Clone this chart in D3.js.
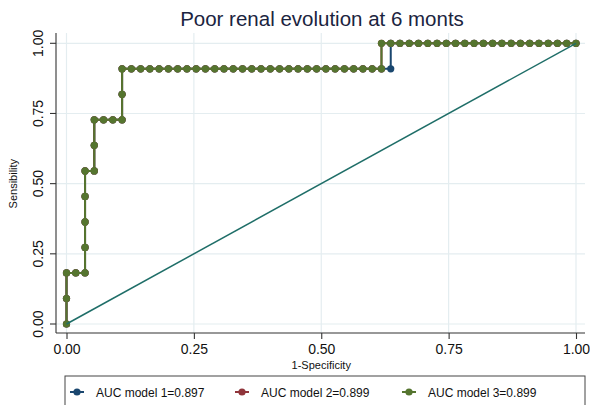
<!DOCTYPE html>
<html>
<head>
<meta charset="utf-8">
<script src="https://cdn.jsdelivr.net/npm/d3@7"></script>
<style>
  html, body { margin: 0; padding: 0; background: #ffffff; }
  svg { display: block; font-family: "Liberation Sans", Arial, sans-serif; }
</style>
</head>
<body>
<svg id="chart" width="590" height="405"></svg>
<script>
// ---- Data ----
const titleText = "Poor renal evolution at 6 monts";
const xAxisTitle = "1-Specificity";
const yAxisTitle = "Sensibility";
const tickValues = [0, 0.25, 0.5, 0.75, 1];
const tickLabels = ["0.00", "0.25", "0.50", "0.75", "1.00"];
const modelNames = ["AUC model 1=0.897", "AUC model 2=0.899", "AUC model 3=0.899"];

const fpr1 = [0,0,0,0.0182,0.0364,0.0364,0.0364,0.0364,0.0364,0.0545,0.0545,0.0545,0.0727,0.0909,0.1091,0.1091,0.1091,
  0.1273,0.1455,0.1636,0.1818,0.2000,0.2182,0.2364,0.2545,0.2727,0.2909,0.3091,0.3273,0.3455,0.3636,0.3818,0.4000,0.4182,0.4364,0.4545,0.4727,0.4909,0.5091,0.5273,0.5455,0.5636,0.5818,0.6000,0.6182,
  0.6364,0.6364,
  0.6545,0.6727,0.6909,0.7091,0.7273,0.7455,0.7636,0.7818,0.8000,0.8182,0.8364,0.8545,0.8727,0.8909,0.9091,0.9273,0.9455,0.9636,0.9818,1.0000];
const tpr1 = [0,0.0909,0.1818,0.1818,0.1818,0.2727,0.3636,0.4545,0.5455,0.5455,0.6364,0.7273,0.7273,0.7273,0.7273,0.8182,0.9091,
  0.9091,0.9091,0.9091,0.9091,0.9091,0.9091,0.9091,0.9091,0.9091,0.9091,0.9091,0.9091,0.9091,0.9091,0.9091,0.9091,0.9091,0.9091,0.9091,0.9091,0.9091,0.9091,0.9091,0.9091,0.9091,0.9091,0.9091,0.9091,
  0.9091,1,
  1,1,1,1,1,1,1,1,1,1,1,1,1,1,1,1,1,1,1,1];

const fpr2 = [0,0,0,0.0182,0.0364,0.0364,0.0364,0.0364,0.0364,0.0545,0.0545,0.0545,0.0727,0.0909,0.1091,0.1091,0.1091,
  0.1273,0.1455,0.1636,0.1818,0.2000,0.2182,0.2364,0.2545,0.2727,0.2909,0.3091,0.3273,0.3455,0.3636,0.3818,0.4000,0.4182,0.4364,0.4545,0.4727,0.4909,0.5091,0.5273,0.5455,0.5636,0.5818,0.6000,0.6182,
  0.6182,
  0.6364,0.6545,0.6727,0.6909,0.7091,0.7273,0.7455,0.7636,0.7818,0.8000,0.8182,0.8364,0.8545,0.8727,0.8909,0.9091,0.9273,0.9455,0.9636,0.9818,1.0000];
const tpr2 = [0,0.0909,0.1818,0.1818,0.1818,0.2727,0.3636,0.4545,0.5455,0.5455,0.6364,0.7273,0.7273,0.7273,0.7273,0.8182,0.9091,
  0.9091,0.9091,0.9091,0.9091,0.9091,0.9091,0.9091,0.9091,0.9091,0.9091,0.9091,0.9091,0.9091,0.9091,0.9091,0.9091,0.9091,0.9091,0.9091,0.9091,0.9091,0.9091,0.9091,0.9091,0.9091,0.9091,0.9091,0.9091,
  1,
  1,1,1,1,1,1,1,1,1,1,1,1,1,1,1,1,1,1,1,1,1];

const fpr3 = [0,0,0,0.0182,0.0364,0.0364,0.0364,0.0364,0.0364,0.0545,0.0545,0.0545,0.0727,0.0909,0.1091,0.1091,0.1091,
  0.1273,0.1455,0.1636,0.1818,0.2000,0.2182,0.2364,0.2545,0.2727,0.2909,0.3091,0.3273,0.3455,0.3636,0.3818,0.4000,0.4182,0.4364,0.4545,0.4727,0.4909,0.5091,0.5273,0.5455,0.5636,0.5818,0.6000,0.6182,
  0.6182,
  0.6364,0.6545,0.6727,0.6909,0.7091,0.7273,0.7455,0.7636,0.7818,0.8000,0.8182,0.8364,0.8545,0.8727,0.8909,0.9091,0.9273,0.9455,0.9636,0.9818,1.0000];
const tpr3 = [0,0.0909,0.1818,0.1818,0.1818,0.2727,0.3636,0.4545,0.5455,0.5455,0.6364,0.7273,0.7273,0.7273,0.7273,0.8182,0.9091,
  0.9091,0.9091,0.9091,0.9091,0.9091,0.9091,0.9091,0.9091,0.9091,0.9091,0.9091,0.9091,0.9091,0.9091,0.9091,0.9091,0.9091,0.9091,0.9091,0.9091,0.9091,0.9091,0.9091,0.9091,0.9091,0.9091,0.9091,0.9091,
  1,
  1,1,1,1,1,1,1,1,1,1,1,1,1,1,1,1,1,1,1,1,1];

const refX = [0, 1];
const refY = [0, 1];

const seriesColors = ["#1a476f", "#90353b", "#55752f"];
const refColor = "#1f6e68";

// ---- Layout ----
const svg = d3.select("#chart");
const axisLeftX = 56, axisBottomY = 333, plotTop = 33, plotRight = 585;
const x = d3.scaleLinear().domain([0, 1]).range([66.5, 576]);
const y = d3.scaleLinear().domain([0, 1]).range([324, 43.3]);

// gridlines
const grid = svg.append("g");
grid.selectAll("line.gx").data(tickValues).join("line")
  .attr("x1", d => x(d)).attr("x2", d => x(d))
  .attr("y1", plotTop).attr("y2", axisBottomY)
  .attr("stroke", "#e4edf0").attr("stroke-width", 1.2);
grid.selectAll("line.gy").data(tickValues).join("line")
  .attr("y1", d => y(d)).attr("y2", d => y(d))
  .attr("x1", axisLeftX).attr("x2", plotRight)
  .attr("stroke", "#e4edf0").attr("stroke-width", 1.2);

// y axis
const yAxis = d3.axisLeft(y).tickValues(tickValues)
  .tickFormat((d, i) => tickLabels[i]).tickSize(6).tickSizeOuter(0);
const gy = svg.append("g").attr("transform", `translate(${axisLeftX},0)`).call(yAxis);
gy.select(".domain").attr("d", `M0,${plotTop}V${axisBottomY}`)
  .attr("stroke", "#333").attr("stroke-width", 1.1);
gy.selectAll(".tick").attr("transform", null);
gy.selectAll(".tick line").attr("y1", d => y(d)).attr("y2", d => y(d))
  .attr("stroke", "#333").attr("stroke-width", 1.1);
gy.selectAll(".tick text")
  .attr("font-size", 14).attr("fill", "#111")
  .attr("x", null).attr("dy", null).attr("y", 0)
  .attr("text-anchor", "middle")
  .attr("transform", d => `translate(-13,${y(d)}) rotate(-90)`);

// x axis
const xAxis = d3.axisBottom(x).tickValues(tickValues)
  .tickFormat((d, i) => tickLabels[i]).tickSize(6).tickSizeOuter(0);
const gx = svg.append("g").attr("transform", `translate(0,${axisBottomY})`).call(xAxis);
gx.select(".domain").attr("d", `M${axisLeftX},0H${plotRight}`).attr("stroke", "#333").attr("stroke-width", 1.1);
gx.selectAll("line").attr("stroke", "#333").attr("stroke-width", 1.1);
gx.selectAll("text").attr("font-size", 14).attr("fill", "#111").attr("y", 11).attr("dy", "0.71em");

// axis titles
svg.append("text").attr("x", x(0.5)).attr("y", 369)
  .attr("text-anchor", "middle").attr("font-size", 11).attr("fill", "#111")
  .text(xAxisTitle);
svg.append("text").attr("transform", `translate(17,${(y(0) + y(1)) / 2}) rotate(-90)`)
  .attr("text-anchor", "middle").attr("font-size", 11).attr("fill", "#111")
  .text(yAxisTitle);

// title
svg.append("text").attr("x", 322).attr("y", 26)
  .attr("text-anchor", "middle").attr("font-size", 20.5).attr("fill", "#1b2440")
  .text(titleText);

// series
const models = [
  { fpr: fpr1, tpr: tpr1 },
  { fpr: fpr2, tpr: tpr2 },
  { fpr: fpr3, tpr: tpr3 }
];
const line = d3.line().x(d => x(d[0])).y(d => y(d[1]));
models.forEach((m, i) => {
  const pts = m.fpr.map((f, j) => [f, m.tpr[j]]);
  const g = svg.append("g");
  g.append("path").attr("d", line(pts)).attr("fill", "none")
    .attr("stroke", seriesColors[i]).attr("stroke-width", 2);
  g.selectAll("circle").data(pts).join("circle")
    .attr("cx", d => x(d[0])).attr("cy", d => y(d[1])).attr("r", 3.6)
    .attr("fill", seriesColors[i]);
});

// reference line
svg.append("path")
  .attr("d", line(refX.map((v, i) => [v, refY[i]])))
  .attr("fill", "none").attr("stroke", refColor).attr("stroke-width", 1.5);

// legend
const lg = svg.append("g");
lg.append("rect").attr("x", 65).attr("y", 376).attr("width", 520).attr("height", 40)
  .attr("fill", "#fff").attr("stroke", "#444").attr("stroke-width", 1);
const legendX = [77, 242, 409];
modelNames.forEach((name, i) => {
  const cx = legendX[i];
  lg.append("line").attr("x1", cx - 7).attr("x2", cx + 7).attr("y1", 392).attr("y2", 392)
    .attr("stroke", seriesColors[i]).attr("stroke-width", 2);
  lg.append("circle").attr("cx", cx).attr("cy", 392).attr("r", 3.6).attr("fill", seriesColors[i]);
  lg.append("text").attr("x", cx + 19).attr("y", 396.5).attr("font-size", 12).attr("fill", "#111")
    .text(name);
});
</script>
</body>
</html>
